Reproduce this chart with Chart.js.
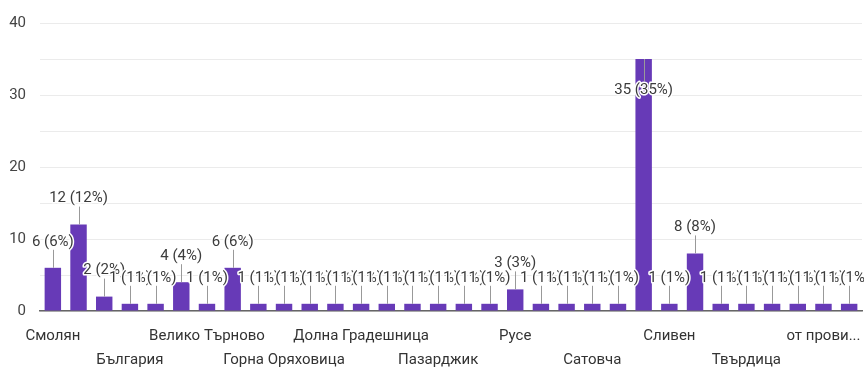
<!DOCTYPE html>
<html>
<head>
<meta charset="utf-8">
<script src="https://cdn.jsdelivr.net/npm/chart.js@4/dist/chart.umd.min.js"></script>
<style>
  html, body { margin: 0; padding: 0; background: #fff; }
  #wrap { width: 864px; height: 367px; }
</style>
</head>
<body>
<div id="wrap"><canvas id="townChart" width="864" height="367"></canvas></div>
<script>
// only every third name is visible on the axis
var towns = ["Смолян", "Баните", "Благоевград", "България", "Бургас", "Варна",
    "Велико Търново", "Габрово", "Гоце Делчев", "Горна Оряховица", "Девин", "Добрич",
    "Долна Градешница", "Доспат", "Златоград", "Пазарджик", "Пловдив", "Рудозем",
    "Русе", "Самоков", "Сандански", "Сатовча", "Свиленград", "Силистра",
    "Сливен", "София", "Стара Загора", "Твърдица", "Търговище", "Хасково",
    "от прови...", "Ямбол"];
var counts = [6, 12, 2, 1, 1, 4, 1, 6, 1, 1, 1, 1, 1, 1, 1, 1, 1, 1,
    3, 1, 1, 1, 1, 35, 1, 8, 1, 1, 1, 1, 1, 1];
var yTicks = [0, 10, 20, 30, 40];

var total = counts.reduce(function (a, b) { return a + b; }, 0);

var barLabels = {
    id: "barLabels",
    afterDatasetsDraw: function (chart) {
        var ctx = chart.ctx;
        var meta = chart.getDatasetMeta(0);
        var max = Math.max.apply(null, counts);
        ctx.save();
        ctx.font = "15px Roboto";
        ctx.textAlign = "center";
        ctx.textBaseline = "middle";
        meta.data.forEach(function (bar, i) {
            var v = counts[i];
            var text = v + " (" + Math.round(v / total * 100) + "%)";
            var ty, y1, y2;
            if (v === max) {
                ty = bar.y + 31; y1 = bar.y; y2 = ty - 9;
            } else {
                ty = bar.y - 26; y1 = ty + 8; y2 = bar.y;
            }
            ctx.strokeStyle = "#999";
            ctx.lineWidth = 1;
            ctx.beginPath();
            ctx.moveTo(Math.round(bar.x) + 0.5, y1);
            ctx.lineTo(Math.round(bar.x) + 0.5, y2);
            ctx.stroke();
            ctx.strokeStyle = "#fff";
            ctx.lineWidth = 3;
            ctx.lineJoin = "round";
            ctx.strokeText(text, bar.x, ty);
            ctx.fillStyle = "#3c3c3c";
            ctx.fillText(text, bar.x, ty);
        });
        ctx.restore();
    }
};

var ctx1 = document.getElementById("townChart");
var townChart = new Chart(ctx1, {
    type: "bar",
    data: {
        labels: towns,
        datasets: [
            {
                data: counts,
                backgroundColor: "#673ab7",
                barPercentage: 0.64,
                categoryPercentage: 1.0
            }
        ]
    },
    options: {
        responsive: false,
        animation: false,
        layout: { padding: { top: 20, right: 2, left: 0, bottom: 0 } },
        plugins: {
            legend: { display: false },
            tooltip: { enabled: false }
        },
        scales: {
            x: {
                grid: { display: false, drawTicks: false },
                border: { color: "#666", width: 1.5 },
                afterFit: function (scale) { scale.height = 56; },
                ticks: {
                    autoSkip: false,
                    maxRotation: 0,
                    padding: 13,
                    color: "#333",
                    font: { family: "Roboto", size: 15, lineHeight: 1.6 },
                    callback: function (value, index) {
                        if (index % 3 !== 0) return "";
                        var name = towns[index];
                        return (index / 3) % 2 === 0 ? name : ["", name];
                    }
                }
            },
            y: {
                min: 0,
                max: 40,
                afterFit: function (scale) { scale.width = 40; },
                grid: { color: "#ebebeb", drawTicks: false },
                border: { display: false },
                ticks: {
                    stepSize: 5,
                    padding: 14,
                    color: "#444",
                    font: { family: "Roboto", size: 15 },
                    callback: function (value) {
                        return yTicks.indexOf(value) >= 0 ? value : "";
                    }
                }
            }
        }
    },
    plugins: [barLabels]
});
</script>
</body>
</html>
